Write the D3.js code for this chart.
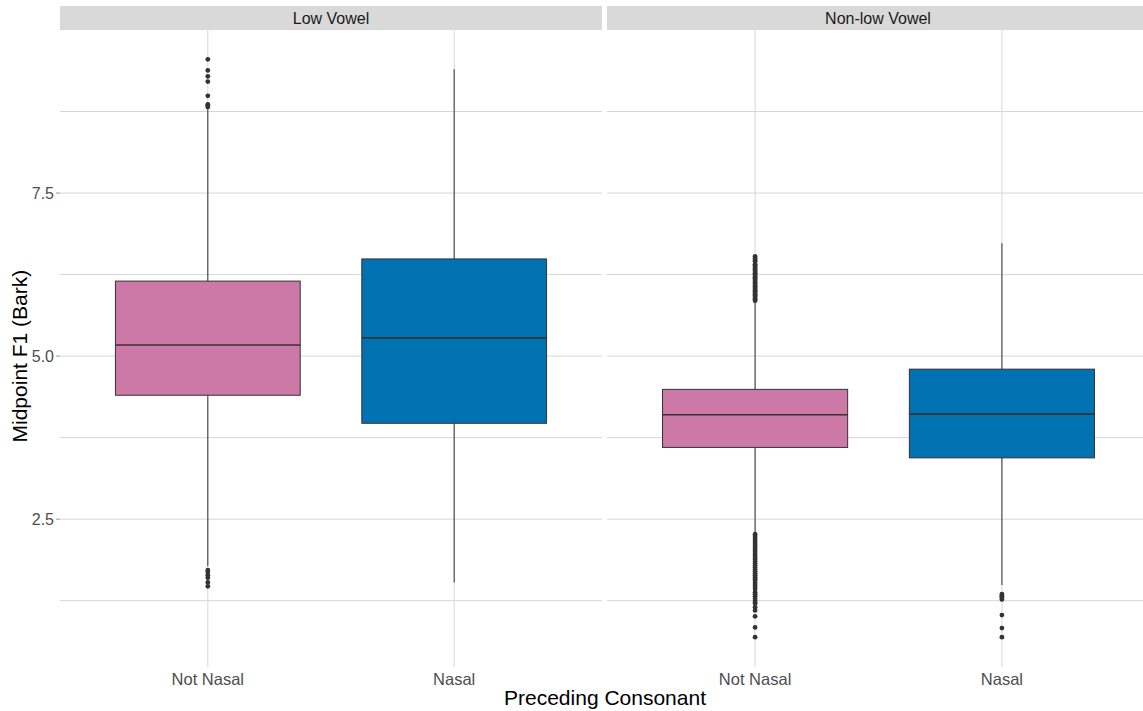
<!DOCTYPE html>
<html><head><meta charset="utf-8">
<script src="https://cdn.jsdelivr.net/npm/d3@7"></script>
<style>body{margin:0;background:#fff;} svg{display:block;font-family:"Liberation Sans",Arial,sans-serif;}</style>
</head><body>
<svg id="c" width="1143" height="711"></svg>
<script>
const facets = ["Low Vowel", "Non-low Vowel"];
const categories = ["Not Nasal", "Nasal"];
const colors = ["#CC79A7", "#0072B2"];
const yTicks = [2.5, 5.0, 7.5];
const yMinor = [1.25, 3.75, 6.25, 8.75];
// [facet][category]
const q1 = [[4.40, 3.97], [3.60, 3.44]];
const medians = [[5.17, 5.28], [4.10, 4.11]];
const q3 = [[6.15, 6.49], [4.49, 4.80]];
const whiskerLow = [[1.78, 1.53], [2.29, 1.49]];
const whiskerHigh = [[8.87, 9.40], [5.83, 6.73]];
const outliersLowNot = [9.55, 9.38, 9.29, 9.21, 8.99, 8.86, 8.84, 8.82, 1.72, 1.69, 1.64, 1.60, 1.53, 1.47];
const outliersLowNasal = [];
const outliersNonlowNot = [6.53, 6.50, 6.47, 6.45, 6.41, 6.39, 6.37, 6.35, 6.33, 6.31, 6.29, 6.27, 6.25, 6.23,
  6.21, 6.19, 6.17, 6.15, 6.13, 6.11, 6.09, 6.07, 6.05, 6.03, 6.01, 5.99, 5.97, 5.95, 5.93, 5.91, 5.89, 5.87, 5.85,
  2.27, 2.24, 2.21, 2.18, 2.15, 2.12, 2.09, 2.06, 2.03, 2.00, 1.97, 1.94, 1.91, 1.88, 1.85, 1.82, 1.79, 1.76,
  1.73, 1.70, 1.67, 1.64, 1.61, 1.58, 1.55, 1.52, 1.49, 1.46, 1.43, 1.38, 1.35, 1.32, 1.29, 1.26, 1.23, 1.21,
  1.15, 1.10, 1.01, 0.84, 0.69];
const outliersNonlowNasal = [1.35, 1.32, 1.30, 1.27, 1.03, 0.83, 0.69];
const outliers = [[outliersLowNot, outliersLowNasal], [outliersNonlowNot, outliersNonlowNasal]];

const svg = d3.select("#c");
const panelTop = 30, panelBottom = 662;
const panelX = [[60, 602], [607, 1150]];
const y = d3.scaleLinear().domain([0.31, 10.0]).range([panelBottom, panelTop]);
const grid = "#D6D6D6";

facets.forEach((f, fi) => {
  const [x0, x1] = panelX[fi];
  const unit = (x1 - x0) / 2.2;
  const xs = d3.scaleLinear().domain([0.4, 2.6]).range([x0, x1]);
  const g = svg.append("g");
  // strip
  g.append("rect").attr("x", x0).attr("y", 6).attr("width", x1 - x0).attr("height", 24).attr("fill", "#D9D9D9");
  g.append("text").attr("x", (x0 + Math.min(x1, 1143)) / 2 + (fi === 1 ? 3 : 0)).attr("y", 24).attr("text-anchor", "middle")
    .attr("font-size", 16).attr("fill", "#1A1A1A").text(f);
  // grid horizontal
  yMinor.concat(yTicks).forEach(v => {
    g.append("line").attr("x1", x0).attr("x2", x1).attr("y1", y(v)).attr("y2", y(v))
      .attr("stroke", grid).attr("stroke-width", 1);
  });
  // vertical grid + ticks
  categories.forEach((c, ci) => {
    const cx = xs(ci + 1);
    g.append("line").attr("x1", cx).attr("x2", cx).attr("y1", panelTop).attr("y2", panelBottom + 5)
      .attr("stroke", grid).attr("stroke-width", 1);
    g.append("text").attr("x", cx).attr("y", 685).attr("text-anchor", "middle").attr("font-size", 16.5)
      .attr("fill", "#4D4D4D").text(c);
  });
  // boxes
  categories.forEach((c, ci) => {
    const cx = xs(ci + 1);
    const hw = unit * 0.375;
    g.append("line").attr("x1", cx).attr("x2", cx).attr("y1", y(q3[fi][ci])).attr("y2", y(whiskerHigh[fi][ci]))
      .attr("stroke", "#333").attr("stroke-width", 1);
    g.append("line").attr("x1", cx).attr("x2", cx).attr("y1", y(q1[fi][ci])).attr("y2", y(whiskerLow[fi][ci]))
      .attr("stroke", "#333").attr("stroke-width", 1);
    g.append("rect").attr("x", cx - hw).attr("y", y(q3[fi][ci])).attr("width", 2 * hw)
      .attr("height", y(q1[fi][ci]) - y(q3[fi][ci])).attr("fill", colors[ci]).attr("stroke", "#333").attr("stroke-width", 1);
    g.append("line").attr("x1", cx - hw).attr("x2", cx + hw).attr("y1", y(medians[fi][ci])).attr("y2", y(medians[fi][ci]))
      .attr("stroke", "#333").attr("stroke-width", 1.6);
    g.selectAll(null).data(outliers[fi][ci]).enter().append("circle")
      .attr("cx", cx).attr("cy", d => y(d)).attr("r", 2.4).attr("fill", "#333");
  });
});

// y axis
yTicks.forEach(v => {
  svg.append("line").attr("x1", 56).attr("x2", 60).attr("y1", y(v)).attr("y2", y(v)).attr("stroke", "#999");
  svg.append("text").attr("x", 54).attr("y", y(v) + 5.5).attr("text-anchor", "end").attr("font-size", 16)
    .attr("fill", "#4D4D4D").text(d3.format(".1f")(v));
});
svg.append("text").attr("transform", "translate(27," + y(5.0) + ") rotate(-90)")
  .attr("text-anchor", "middle").attr("font-size", 21).attr("fill", "#000").text("Midpoint F1 (Bark)");
svg.append("text").attr("x", 605).attr("y", 705).attr("text-anchor", "middle").attr("font-size", 21)
  .attr("fill", "#000").text("Preceding Consonant");
</script>
</body></html>
